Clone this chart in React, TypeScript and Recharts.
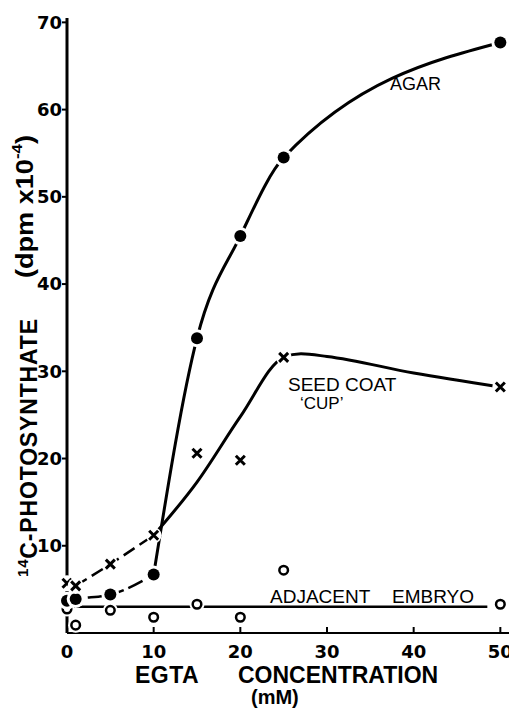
import { LineChart, Line, XAxis, YAxis } from 'recharts';

// EGTA concentration (mM) at which each sample was measured
const concentrations = [0, 1, 5, 10, 15, 20, 25, 50];

// 14C-photosynthate (dpm x 10^-4)
const agarValues = [3.7, 3.9, 4.4, 6.7, 33.8, 45.5, 54.5, 67.7];
const seedCoatValues = [5.7, 5.4, 7.9, 11.2, 20.6, 19.8, 31.6, 28.2];
const embryoValues = [2.75, 0.9, 2.6, 1.8, 3.3, 1.8, 7.2, 3.3];

// hand-drawn fitted curves
const seedDashX = [1, 5, 10];
const seedDashY = [5.4, 7.9, 11.2];
const seedCurveX = [10, 15, 20, 25, 27, 30, 40, 50];
const seedCurveY = [11.2, 17.3, 24.8, 31.6, 32.0, 31.7, 29.8, 28.2];
const embryoLineX = [0, 48.5];
const embryoLineY = [3.0, 3.0];

const xTicks = [0, 10, 20, 30, 40, 50];
const yTicks = [10, 20, 30, 40, 50, 60, 70];

const toPoints = (xs: number[], ys: number[]) => xs.map((x, i) => ({ x, y: ys[i] }));

const agarDash = toPoints(concentrations.slice(0, 4), agarValues.slice(0, 4));
const agarSolid = toPoints(concentrations.slice(3), agarValues.slice(3));
const agarPoints = toPoints(concentrations, agarValues);
const seedPoints = toPoints(concentrations, seedCoatValues);
const embryoPoints = toPoints(concentrations, embryoValues);
const seedDash = toPoints(seedDashX, seedDashY);
const seedCurve = toPoints(seedCurveX, seedCurveY);
const embryoLine = toPoints(embryoLineX, embryoLineY);

const tickFont = { fontFamily: 'DejaVu Sans', fontWeight: 'bold', fontSize: 18, fill: '#000' };
const titleFont = { fontFamily: 'Liberation Sans, Arial, sans-serif', fontWeight: 'bold', fill: '#000' };
const labelFont = { fontFamily: 'Liberation Sans, Arial, sans-serif', fill: '#000' };

const FilledDot = (props: any) => {
    const { cx, cy, index } = props;
    return (
        <g key={`a${index}`}>
            <circle cx={cx} cy={cy} r={9} fill="#fff" />
            <circle cx={cx} cy={cy} r={6} fill="#000" />
        </g>
    );
};

const OpenDot = (props: any) => {
    const { cx, cy, index } = props;
    return (
        <g key={`e${index}`}>
            <circle cx={cx} cy={cy} r={7.5} fill="#fff" />
            <circle cx={cx} cy={cy} r={4.3} fill="#fff" stroke="#000" strokeWidth={2.5} />
        </g>
    );
};

const CrossDot = (props: any) => {
    const { cx, cy, index } = props;
    const s = 4.5;
    return (
        <g key={`s${index}`}>
            <circle cx={cx} cy={cy} r={8} fill="#fff" />
            <path
                d={`M${cx - s},${cy - s}L${cx + s},${cy + s}M${cx - s},${cy + s}L${cx + s},${cy - s}`}
                stroke="#000"
                strokeWidth={3}
            />
        </g>
    );
};

const BottomTick = (props: any) => {
    const { x, y, payload } = props;
    return (
        <g>
            {payload.value !== 0 && <line x1={x} y1={y} x2={x} y2={y - 6} stroke="#000" strokeWidth={2} />}
            <text x={x} y={y + 25} textAnchor="middle" {...tickFont}>
                {payload.value}
            </text>
        </g>
    );
};

const TopTick = (props: any) => {
    const { x, y } = props;
    return <line x1={x} y1={y} x2={x} y2={y + 6} stroke="#000" strokeWidth={2} />;
};

const App = () => {
    return (
        <div style={{ position: 'absolute', left: 0, top: 0, width: 509, height: 709, background: '#fff' }}>
            <LineChart width={509} height={709} margin={{ top: 18, right: 0, bottom: 0, left: 0 }}>
                <XAxis
                    dataKey="x"
                    type="number"
                    domain={[0, 51]}
                    ticks={xTicks}
                    height={76}
                    tickSize={0}
                    tickMargin={0}
                    tick={<BottomTick />}
                    axisLine={{ stroke: '#000', strokeWidth: 2 }}
                />
                <XAxis
                    xAxisId="top"
                    orientation="top"
                    dataKey="x"
                    type="number"
                    domain={[0, 51]}
                    ticks={[10, 20, 30, 40, 50]}
                    height={0}
                    tickSize={0}
                    tickMargin={0}
                    tick={<TopTick />}
                    axisLine={{ stroke: '#000', strokeWidth: 2 }}
                />
                <YAxis
                    dataKey="y"
                    type="number"
                    domain={[0, 70.5]}
                    ticks={yTicks}
                    width={67}
                    tickSize={5}
                    tickMargin={0}
                    tick={tickFont}
                    tickLine={{ stroke: '#000', strokeWidth: 2 }}
                    axisLine={{ stroke: '#000', strokeWidth: 3 }}
                />

                <Line data={agarDash} dataKey="y" type="monotone" stroke="#000" strokeWidth={2.5} strokeDasharray="16 5" dot={false} activeDot={false} isAnimationActive={false} />
                <Line data={agarSolid} dataKey="y" type="monotone" stroke="#000" strokeWidth={3} dot={false} activeDot={false} isAnimationActive={false} />
                <Line data={seedDash} dataKey="y" type="monotone" stroke="#000" strokeWidth={2.5} strokeDasharray="13 6" dot={false} activeDot={false} isAnimationActive={false} />
                <Line data={seedCurve} dataKey="y" type="monotone" stroke="#000" strokeWidth={3} dot={false} activeDot={false} isAnimationActive={false} />
                <Line data={embryoLine} dataKey="y" type="linear" stroke="#000" strokeWidth={2.5} dot={false} activeDot={false} isAnimationActive={false} />

                <Line data={embryoPoints} dataKey="y" stroke="none" dot={OpenDot} activeDot={false} isAnimationActive={false} />
                <Line data={agarPoints} dataKey="y" stroke="none" dot={FilledDot} activeDot={false} isAnimationActive={false} />
                <Line data={seedPoints} dataKey="y" stroke="none" dot={CrossDot} activeDot={false} isAnimationActive={false} />
            </LineChart>

            <svg width={509} height={709} style={{ position: 'absolute', left: 0, top: 0, pointerEvents: 'none' }}>
                {/* series labels */}
                <text x={390} y={90} fontSize={18} {...labelFont}>AGAR</text>
                <text x={288} y={391} fontSize={19} {...labelFont}>SEED COAT</text>
                <text x={300} y={409} fontSize={17} {...labelFont}>‘CUP’</text>
                <text x={270} y={603} fontSize={19} {...labelFont}>ADJACENT</text>
                <text x={392} y={603} fontSize={19} {...labelFont}>EMBRYO</text>

                {/* x axis title */}
                <text x={135} y={683} fontSize={23} letterSpacing={0.5} {...titleFont}>EGTA</text>
                <text x={238} y={683} fontSize={23} {...titleFont}>CONCENTRATION</text>
                <text x={251} y={704} fontSize={20} {...titleFont}>(mM)</text>

                {/* y axis title */}
                <g transform="rotate(-90)">
                    <text x={-577} y={37} fontSize={23} textLength={258} lengthAdjust="spacing" {...titleFont}>
                        <tspan fontSize={15} dy={-9}>14</tspan>
                        <tspan dy={9}>C-PHOTOSYNTHATE</tspan>
                    </text>
                    <text x={-278} y={33} fontSize={24} textLength={143} lengthAdjust="spacingAndGlyphs" {...titleFont}>
                        <tspan>(dpm x10</tspan>
                        <tspan fontSize={15} dy={-11}>-4</tspan>
                        <tspan dy={11}>)</tspan>
                    </text>
                </g>
            </svg>
        </div>
    );
};

export default App;
